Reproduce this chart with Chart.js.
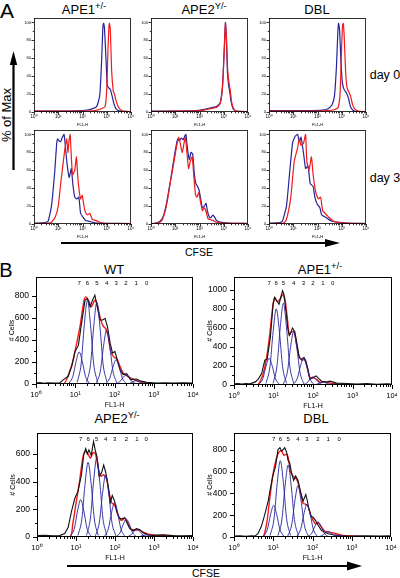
<!DOCTYPE html>
<html>
<head>
<meta charset="utf-8">
<script src="https://cdn.jsdelivr.net/npm/chart.js@4.4.1/dist/chart.umd.min.js"></script>
<style>
  html, body { margin: 0; padding: 0; background: #fff; }
  #fig { position: relative; width: 400px; height: 578px; overflow: hidden; font-family: "Liberation Sans", Arial, sans-serif; color: #000; }
  #fig canvas { position: absolute; }
  #fig svg { position: absolute; left: 0; top: 0; }
  .lbl { position: absolute; white-space: nowrap; line-height: 1; transform: translate(-50%, -50%); }
  .lbl sup { font-size: 0.72em; vertical-align: 0.5em; line-height: 0; }
</style>
</head>
<body>
<div id="fig">
  <svg width="400" height="578">
    <!-- % of Max arrow -->
    <line x1="13.5" y1="170" x2="13.5" y2="62" stroke="#000" stroke-width="2.2"/>
    <polygon points="13.5,51 9.8,65 17.2,65" fill="#000"/>
    <!-- CFSE arrow, panel A -->
    <line x1="61" y1="243" x2="328" y2="243" stroke="#000" stroke-width="2"/>
    <polygon points="340,243 325,239 325,247" fill="#000"/>
    <!-- CFSE arrow, panel B -->
    <line x1="67" y1="566" x2="350" y2="566" stroke="#000" stroke-width="2"/>
    <polygon points="362,566 347,561.5 347,570.5" fill="#000"/>
  </svg>
  <div class="lbl" style="left:7px;top:10px;font-size:21px">A</div>
  <div class="lbl" style="left:6px;top:270px;font-size:20px">B</div>
  <div class="lbl" style="left:84px;top:9px;font-size:13px">APE1<sup>+/-</sup></div>
  <div class="lbl" style="left:204px;top:9px;font-size:13px">APE2<sup>Y/-</sup></div>
  <div class="lbl" style="left:317px;top:9px;font-size:13px">DBL</div>
  <div class="lbl" style="left:385px;top:75px;font-size:12.5px">day 0</div>
  <div class="lbl" style="left:385px;top:178px;font-size:12.5px">day 3</div>
  <div class="lbl" style="left:6px;top:115px;font-size:13px;transform:translate(-50%,-50%) rotate(-90deg)">% of Max</div>
  <div class="lbl" style="left:199px;top:252px;font-size:10.5px">CFSE</div>
  <div class="lbl" style="left:206px;top:573px;font-size:10.5px">CFSE</div>
  <div class="lbl" style="left:114px;top:269px;font-size:13px">WT</div>
  <div class="lbl" style="left:320px;top:269px;font-size:13px">APE1<sup>+/-</sup></div>
  <div class="lbl" style="left:117px;top:418px;font-size:13px">APE2<sup>Y/-</sup></div>
  <div class="lbl" style="left:316px;top:418px;font-size:13px">DBL</div>
</div>
<script>
// x values are in decades of FL1-H (0 = 10^0 ... 4 = 10^4)
const decadeLabels = ['10\u2070', '10\u00b9', '10\u00b2', '10\u00b3', '10\u2074'];
const peakLabels = ['7', '6', '5', '4', '3', '2', '1', '0'];
const pctTicks = [0, 20, 40, 60, 80, 100];

// Panel A, day 0 (% of max)
const day0Ape1Red = [[0,1],[1.5,1],[2.0,1],[2.5,1.5],[2.72,3],[2.93,6],[3.0,25],[3.05,69],[3.09,96],[3.11,99],[3.15,90],[3.2,47],[3.27,23],[3.32,20],[3.37,14],[3.44,8],[3.55,3],[3.68,1],[4,0.5]];
const day0Ape1Blue = [[0,1],[1.5,1],[2.0,1.5],[2.24,2.5],[2.45,4],[2.58,6],[2.66,12],[2.72,21],[2.79,58],[2.84,95],[2.87,99],[2.91,92],[2.97,58],[3.02,30],[3.08,27],[3.15,25],[3.22,18],[3.3,9],[3.4,3],[3.55,1],[4,0.5]];
const day0Ape2Red = [[0,0.5],[1.0,1],[1.8,1.2],[2.2,2],[2.5,4],[2.7,5],[2.85,9],[2.95,28],[3.02,68],[3.07,99],[3.11,85],[3.16,48],[3.22,32],[3.27,24],[3.32,12],[3.4,4],[3.5,1],[4,0.5]];
const day0Ape2Blue = [[0,1],[1.0,1],[1.8,1.5],[2.2,3],[2.5,5],[2.7,6],[2.85,10],[2.95,30],[3.02,70],[3.07,100],[3.11,80],[3.15,45],[3.2,30],[3.25,22],[3.3,12],[3.38,4],[3.5,1],[4,0.5]];
const day0DblRed = [[0,1],[1.5,1],[2.4,1.5],[2.7,2.5],[2.85,5],[2.93,20],[2.98,60],[3.03,97],[3.06,99],[3.1,85],[3.16,45],[3.22,27],[3.3,22],[3.36,18],[3.45,8],[3.55,3],[3.7,1],[4,0.5]];
const day0DblBlue = [[0,1.5],[1.5,1.5],[2.2,2],[2.45,4],[2.6,8],[2.7,18],[2.78,50],[2.84,90],[2.87,99],[2.91,92],[2.97,55],[3.03,32],[3.1,25],[3.18,22],[3.27,16],[3.36,6],[3.46,2],[3.6,0.5],[4,0.5]];

// Panel A, day 3 (% of max)
const day3Ape1Red = [[0,0.5],[0.6,1],[0.72,2],[0.88,8],[1.0,20],[1.1,45],[1.21,70],[1.28,85],[1.35,95],[1.4,80],[1.44,92],[1.49,100],[1.54,75],[1.59,55],[1.68,60],[1.75,75],[1.8,55],[1.85,40],[1.92,28],[1.99,32],[2.05,22],[2.1,15],[2.2,10],[2.3,12],[2.36,8],[2.41,5],[2.55,4],[2.7,2],[3.1,0.5],[4,0.5]];
const day3Ape1Blue = [[0,1],[0.45,1.5],[0.58,3],[0.72,20],[0.86,60],[0.93,88],[0.97,95],[1.03,93],[1.1,92],[1.17,97],[1.24,100],[1.3,85],[1.36,68],[1.45,52],[1.54,62],[1.6,45],[1.68,30],[1.77,28],[1.85,30],[1.92,12],[2.01,8],[2.13,4],[2.27,3],[2.4,2],[2.55,1],[3,0.8],[4,0.5]];
const day3Ape2Red = [[0,0.3],[0.3,1],[0.45,4],[0.6,16],[0.7,30],[0.8,47],[0.9,62],[1.0,78],[1.08,90],[1.15,97],[1.22,88],[1.29,80],[1.36,90],[1.42,97],[1.48,80],[1.55,62],[1.62,70],[1.7,75],[1.77,52],[1.84,32],[1.9,30],[1.97,35],[2.04,25],[2.12,15],[2.2,18],[2.27,14],[2.35,6],[2.45,5],[2.55,4],[2.7,2],[3.0,1],[4,0.5]];
const day3Ape2Blue = [[0,0.5],[0.2,1],[0.37,3],[0.5,8],[0.6,18],[0.7,32],[0.8,48],[0.9,65],[1.0,82],[1.1,95],[1.17,93],[1.25,96],[1.32,94],[1.39,98],[1.44,100],[1.5,85],[1.58,72],[1.65,80],[1.72,78],[1.78,58],[1.85,45],[1.92,42],[1.98,38],[2.05,28],[2.12,18],[2.2,20],[2.27,23],[2.33,14],[2.4,8],[2.47,7],[2.55,10],[2.62,8],[2.7,4],[2.85,2],[3.2,1],[4,0.5]];
const day3DblRed = [[0,0.5],[0.6,1],[0.72,5],[0.9,30],[1.04,70],[1.18,85],[1.25,95],[1.32,88],[1.42,90],[1.51,100],[1.56,70],[1.65,60],[1.75,75],[1.82,55],[1.93,35],[2.03,28],[2.13,30],[2.21,15],[2.31,12],[2.45,8],[2.66,3],[3.08,1],[4,0.5]];
const day3DblBlue = [[0,1],[0.45,1.5],[0.55,3],[0.72,20],[0.86,60],[0.97,90],[1.08,98],[1.18,100],[1.25,92],[1.32,97],[1.42,80],[1.51,62],[1.61,65],[1.7,45],[1.82,42],[1.89,30],[1.99,22],[2.1,18],[2.17,10],[2.31,8],[2.52,4],[2.8,2],[3.2,1],[4,0.5]];

// Panel B: measured cells (black), model fit (red) and generation peaks 7..0 (blue)
const wtTicks = [0, 200, 400, 600, 800];
const wtCells = [[0,8],[0.1,12],[0.2,7],[0.3,11],[0.45,8],[0.61,12],[0.7,40],[0.82,70],[0.91,160],[0.99,290],[1.08,350],[1.16,550],[1.25,760],[1.31,775],[1.38,700],[1.44,760],[1.5,805],[1.56,700],[1.63,580],[1.7,580],[1.76,595],[1.82,520],[1.89,370],[1.95,280],[2.01,295],[2.07,220],[2.14,130],[2.22,85],[2.31,93],[2.41,40],[2.56,45],[2.65,30],[2.82,15],[3.07,9],[3.3,12],[3.5,8],[3.75,10],[4,8]];
const wtFit = [[0.6,0],[0.72,0],[0.91,170],[0.99,290],[1.12,520],[1.22,750],[1.27,790],[1.35,750],[1.41,700],[1.48,750],[1.52,760],[1.58,690],[1.65,580],[1.72,520],[1.78,500],[1.84,430],[1.9,300],[1.97,250],[2.06,225],[2.14,160],[2.22,100],[2.31,75],[2.41,55],[2.52,35],[2.65,20],[2.82,10],[3.0,3],[3.2,0]];
const wtPeaks = [
  [[0.84,6],[0.94,70],[1.02,203],[1.10,290],[1.18,203],[1.26,70],[1.36,6]],
  [[1.05,15],[1.15,182],[1.23,532],[1.31,760],[1.39,532],[1.47,182],[1.57,15]],
  [[1.29,15],[1.39,178],[1.47,518],[1.55,740],[1.63,518],[1.71,178],[1.81,15]],
  [[1.54,10],[1.64,118],[1.72,343],[1.80,490],[1.88,343],[1.96,118],[2.06,10]],
  [[1.78,4],[1.88,53],[1.96,154],[2.04,220],[2.12,154],[2.20,53],[2.30,4]],
  [[2.03,2],[2.13,19],[2.21,56],[2.29,80],[2.37,56],[2.45,19],[2.55,2]],
  [[2.29,1],[2.39,7],[2.47,21],[2.55,30],[2.63,21],[2.71,7],[2.81,1]],
  [[2.56,0],[2.66,2],[2.74,6],[2.82,8],[2.90,6],[2.98,2],[3.08,0]]
];

const ape1Ticks = [0, 200, 400, 600, 800, 1000];
const ape1Cells = [[0,12],[0.1,15],[0.2,10],[0.3,16],[0.4,12],[0.53,30],[0.61,60],[0.7,120],[0.78,260],[0.84,270],[0.92,500],[0.99,850],[1.03,920],[1.09,880],[1.14,850],[1.19,930],[1.23,990],[1.26,960],[1.31,800],[1.36,600],[1.4,520],[1.43,540],[1.48,600],[1.54,560],[1.6,420],[1.65,290],[1.71,270],[1.77,290],[1.82,250],[1.88,150],[1.92,60],[2.01,80],[2.08,95],[2.14,70],[2.22,40],[2.35,30],[2.43,40],[2.6,20],[2.86,15],[3.11,10],[3.36,15],[3.62,8],[3.87,12],[4,10]];
const ape1Fit = [[0.55,0],[0.61,0],[0.74,120],[0.83,300],[0.91,550],[0.98,820],[1.03,920],[1.09,880],[1.16,900],[1.23,950],[1.29,900],[1.35,700],[1.4,530],[1.46,560],[1.52,560],[1.58,440],[1.65,300],[1.72,260],[1.79,270],[1.85,190],[1.92,80],[2.01,75],[2.09,60],[2.18,30],[2.31,35],[2.43,20],[2.6,10],[2.77,0]];
const ape1Peaks = [
  [[0.63,6],[0.73,67],[0.81,196],[0.89,280],[0.97,196],[1.05,67],[1.15,6]],
  [[0.81,16],[0.91,192],[0.99,560],[1.07,800],[1.15,560],[1.23,192],[1.33,16]],
  [[0.99,17],[1.09,206],[1.17,602],[1.25,860],[1.33,602],[1.41,206],[1.51,17]],
  [[1.25,11],[1.35,134],[1.43,392],[1.51,560],[1.59,392],[1.67,134],[1.77,11]],
  [[1.50,6],[1.60,67],[1.68,196],[1.76,280],[1.84,196],[1.92,67],[2.02,6]],
  [[1.74,2],[1.84,20],[1.92,60],[2.00,85],[2.08,60],[2.16,20],[2.26,2]],
  [[1.99,1],[2.09,7],[2.17,21],[2.25,30],[2.33,21],[2.41,7],[2.51,1]],
  [[2.24,0],[2.34,2],[2.42,7],[2.50,10],[2.58,7],[2.66,2],[2.76,0]]
];

const ape2Ticks = [0, 200, 400, 600];
const ape2Cells = [[0,10],[0.2,12],[0.4,8],[0.58,10],[0.71,25],[0.8,70],[0.88,180],[0.97,280],[1.05,330],[1.14,450],[1.2,600],[1.25,640],[1.29,600],[1.33,630],[1.39,590],[1.45,690],[1.5,620],[1.54,580],[1.59,440],[1.65,460],[1.71,520],[1.76,470],[1.82,380],[1.88,250],[1.93,300],[1.99,260],[2.05,180],[2.1,140],[2.16,130],[2.25,140],[2.31,100],[2.38,60],[2.46,45],[2.55,60],[2.63,55],[2.72,30],[2.85,15],[2.98,12],[3.24,15],[3.49,10],[3.74,8],[4,10]];
const ape2Fit = [[0.35,0],[0.84,0],[0.92,100],[1.01,260],[1.09,400],[1.18,580],[1.25,620],[1.31,600],[1.37,570],[1.44,610],[1.5,600],[1.57,500],[1.64,440],[1.71,450],[1.78,420],[1.85,320],[1.91,250],[1.99,230],[2.08,160],[2.16,120],[2.25,135],[2.33,100],[2.42,55],[2.55,50],[2.63,50],[2.72,35],[2.85,20],[3.06,12],[3.32,10],[3.57,5]];
const ape2Peaks = [
  [[0.86,5],[0.96,65],[1.04,189],[1.12,270],[1.20,189],[1.28,65],[1.38,5]],
  [[1.05,11],[1.15,130],[1.23,378],[1.31,540],[1.39,378],[1.47,130],[1.57,11]],
  [[1.27,11],[1.37,137],[1.45,399],[1.53,570],[1.61,399],[1.69,137],[1.79,11]],
  [[1.50,9],[1.60,108],[1.68,315],[1.76,450],[1.84,315],[1.92,108],[2.02,9]],
  [[1.73,5],[1.83,60],[1.91,175],[1.99,250],[2.07,175],[2.15,60],[2.25,5]],
  [[2.03,3],[2.13,31],[2.21,91],[2.29,130],[2.37,91],[2.45,31],[2.55,3]],
  [[2.30,1],[2.40,13],[2.48,39],[2.56,55],[2.64,39],[2.72,13],[2.82,1]],
  [[2.54,0],[2.64,4],[2.72,11],[2.80,15],[2.88,11],[2.96,4],[3.06,0]]
];

const dblTicks = [0, 200, 400, 600, 800];
const dblCells = [[0,8],[0.15,10],[0.3,6],[0.45,10],[0.53,8],[0.61,30],[0.7,100],[0.78,200],[0.87,330],[0.93,450],[0.99,560],[1.06,650],[1.12,800],[1.17,820],[1.21,790],[1.25,800],[1.29,820],[1.34,780],[1.38,700],[1.42,680],[1.46,600],[1.52,520],[1.57,560],[1.63,520],[1.69,420],[1.76,330],[1.83,390],[1.87,330],[1.91,250],[1.96,190],[2.02,180],[2.08,150],[2.14,110],[2.23,60],[2.31,45],[2.4,30],[2.53,20],[2.7,12],[2.95,8],[3.38,10],[3.72,8],[4,10]];
const dblFit = [[0.6,0],[0.74,0],[0.83,120],[0.91,350],[0.99,570],[1.08,720],[1.15,780],[1.21,790],[1.27,750],[1.34,760],[1.38,730],[1.44,600],[1.5,560],[1.57,540],[1.63,500],[1.7,400],[1.76,310],[1.83,300],[1.89,280],[1.96,200],[2.02,150],[2.08,120],[2.14,130],[2.23,90],[2.31,55],[2.4,45],[2.48,40],[2.61,30],[2.78,15],[2.95,10],[3.21,5],[3.55,3]];
const dblPeaks = [
  [[0.75,6],[0.85,70],[0.93,203],[1.01,290],[1.09,203],[1.17,70],[1.27,6]],
  [[0.92,14],[1.02,168],[1.10,490],[1.18,700],[1.26,490],[1.34,168],[1.44,14]],
  [[1.12,13],[1.22,158],[1.30,462],[1.38,660],[1.46,462],[1.54,158],[1.64,13]],
  [[1.37,9],[1.47,113],[1.55,329],[1.63,470],[1.71,329],[1.79,113],[1.89,9]],
  [[1.60,6],[1.70,72],[1.78,210],[1.86,300],[1.94,210],[2.02,72],[2.12,6]],
  [[1.88,3],[1.98,34],[2.06,98],[2.14,140],[2.22,98],[2.30,34],[2.40,3]],
  [[2.14,1],[2.24,12],[2.32,35],[2.40,50],[2.48,35],[2.56,12],[2.66,1]],
  [[2.42,0],[2.52,4],[2.60,11],[2.68,15],[2.76,11],[2.84,4],[2.94,0]]
];

const RED = '#f01a1a';
const BLUE = '#26239c';
const fig = document.getElementById('fig');

// minor log tick positions (2..9 in each decade)
const logMinor = [];
for (let k = 0; k < 4; k++) for (let m = 2; m < 10; m++) logMinor.push(k + Math.log10(m));

// Draws the box around the plot, the outward tick marks and the generation numbers
const frameTicks = {
  id: 'frameTicks',
  afterDatasetsDraw(chart, args, o) {
    const { ctx, chartArea: a, scales: { x, y } } = chart;
    ctx.save();
    ctx.strokeStyle = '#000';
    ctx.lineWidth = o.lw;
    ctx.strokeRect(a.left + 0.5, a.top + 0.5, a.width - 1, a.height - 1);
    ctx.beginPath();
    [0, 1, 2, 3, 4].forEach(v => {
      const px = Math.round(x.getPixelForValue(v)) + 0.5;
      ctx.moveTo(px, a.bottom); ctx.lineTo(px, a.bottom + o.major);
    });
    logMinor.forEach(v => {
      const px = Math.round(x.getPixelForValue(v)) + 0.5;
      ctx.moveTo(px, a.bottom); ctx.lineTo(px, a.bottom + o.minor);
    });
    o.yTicks.forEach(v => {
      const py = Math.round(y.getPixelForValue(v)) + 0.5;
      ctx.moveTo(a.left, py); ctx.lineTo(a.left - o.major, py);
    });
    for (let i = 0; i < o.yTicks.length - 1; i++) {
      const py = Math.round(y.getPixelForValue((o.yTicks[i] + o.yTicks[i + 1]) / 2)) + 0.5;
      ctx.moveTo(a.left, py); ctx.lineTo(a.left - o.minor, py);
    }
    ctx.stroke();
    if (o.peaks) {
      ctx.fillStyle = '#000';
      ctx.font = '6px "Liberation Sans", Arial, sans-serif';
      ctx.textAlign = 'center';
      ctx.textBaseline = 'middle';
      o.peaks.forEach((p, i) => ctx.fillText(peakLabels[i], x.getPixelForValue(p[3][0]), a.top + 6));
    }
    ctx.restore();
  }
};

// Creates one histogram canvas whose plot box lands on the given frame
function histogram(frame, s, datasets, yMax, yTicks, peaks) {
  const canvas = document.createElement('canvas');
  canvas.width = s.yW + frame.w + s.padR;
  canvas.height = s.padT + frame.h + s.xH;
  canvas.style.left = (frame.x - s.yW) + 'px';
  canvas.style.top = (frame.y - s.padT) + 'px';
  fig.appendChild(canvas);
  const font = size => ({ family: '"Liberation Sans", Arial, sans-serif', size: size });
  new Chart(canvas, {
    type: 'line',
    data: { datasets: datasets },
    options: {
      responsive: false,
      animation: false,
      devicePixelRatio: 1,
      layout: { padding: { top: s.padT, right: s.padR, left: 0, bottom: 0 } },
      elements: { point: { radius: 0 } },
      plugins: {
        legend: { display: false },
        tooltip: { enabled: false },
        frameTicks: { lw: s.lw, major: s.major, minor: s.minor, yTicks: yTicks, peaks: peaks }
      },
      scales: {
        x: {
          type: 'linear', min: 0, max: 4,
          afterBuildTicks: sc => { sc.ticks = [0, 1, 2, 3, 4].map(v => ({ value: v })); },
          afterFit: sc => { sc.height = s.xH; },
          grid: { display: false, drawTicks: false },
          border: { display: false },
          ticks: { color: '#000', padding: s.xPad, font: font(s.xTickFont), maxRotation: 0, autoSkip: false, callback: v => decadeLabels[v] },
          title: { display: true, text: 'FL1-H', color: '#000', font: font(s.titleFont), padding: 0 }
        },
        y: {
          min: 0, max: yMax,
          afterBuildTicks: sc => { sc.ticks = yTicks.map(v => ({ value: v })); },
          afterFit: sc => { sc.width = s.yW; },
          grid: { display: false, drawTicks: false },
          border: { display: false },
          ticks: { color: '#000', padding: s.yPad, font: font(s.yTickFont), autoSkip: false, callback: v => String(v) },
          title: { display: s.yTitle, text: '# Cells', color: '#000', font: font(s.titleFont), padding: 0 }
        }
      }
    },
    plugins: [frameTicks]
  });
}

const styleA = { yW: 10, padT: 7, padR: 7, xH: 15, yTickFont: 4, xTickFont: 4.5, titleFont: 4, yPad: 3, xPad: 2, major: 2.5, minor: 1.3, lw: 0.8, yTitle: false };
const styleB = { yW: 28, padT: 13, padR: 13, xH: 25, yTickFont: 8.5, xTickFont: 7.5, titleFont: 7, yPad: 7, xPad: 6, major: 4, minor: 2, lw: 1, yTitle: true };

const pair = (red, blue) => [
  { data: red, borderColor: RED, borderWidth: 1.2, tension: 0.15 },
  { data: blue, borderColor: BLUE, borderWidth: 1.2, tension: 0.15 }
];

// Panel A: two rows (day 0, day 3) x three genotypes
const colsA = [34, 151, 269];
const rowsA = [18, 130];
const panelA = [
  [day0Ape1Red, day0Ape1Blue], [day0Ape2Red, day0Ape2Blue], [day0DblRed, day0DblBlue],
  [day3Ape1Red, day3Ape1Blue], [day3Ape2Red, day3Ape2Blue], [day3DblRed, day3DblBlue]
];
panelA.forEach((p, i) => {
  const frame = { x: colsA[i % 3], y: rowsA[Math.floor(i / 3)], w: 97, h: 94 };
  histogram(frame, styleA, pair(p[0], p[1]), 105, pctTicks, null);
});

// Panel B: proliferation model fits
function fitSets(cells, fit, peaks) {
  const sets = peaks.map(p => ({ data: p, borderColor: BLUE, borderWidth: 0.9, cubicInterpolationMode: 'monotone' }));
  sets.push({ data: cells, borderColor: '#111', borderWidth: 1.1, tension: 0 });
  sets.push({ data: fit, borderColor: RED, borderWidth: 1.4, tension: 0.3 });
  return sets;
}
histogram({ x: 36, y: 277, w: 157, h: 107 }, styleB, fitSets(wtCells, wtFit, wtPeaks), 970, wtTicks, wtPeaks);
histogram({ x: 234, y: 277, w: 158, h: 108 }, styleB, fitSets(ape1Cells, ape1Fit, ape1Peaks), 1135, ape1Ticks, ape1Peaks);
histogram({ x: 37, y: 433, w: 156, h: 104 }, styleB, fitSets(ape2Cells, ape2Fit, ape2Peaks), 752, ape2Ticks, ape2Peaks);
histogram({ x: 234, y: 433, w: 157, h: 104 }, styleB, fitSets(dblCells, dblFit, dblPeaks), 954, dblTicks, dblPeaks);
</script>
</body>
</html>
